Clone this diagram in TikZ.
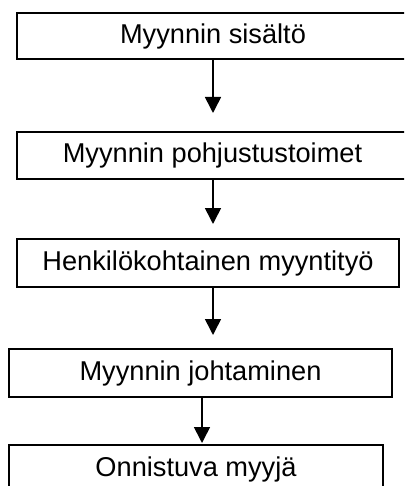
\documentclass[tikz,border=0pt]{standalone}
\usepackage{fontspec}
\setmainfont{Liberation Sans}
\usetikzlibrary{arrows.meta}
\tikzset{
  flowbox/.style={draw=black, line width=1.6pt, inner sep=0pt, fill=white,
    font=\fontsize{27.2}{32}\selectfont, text=black},
  flowarrow/.style={draw=black, line width=1.6pt,
    -{Triangle[length=16pt,width=16pt]}}
}
\begin{document}
\begin{tikzpicture}[x=1pt,y=-1pt]
\useasboundingbox (0,0) rectangle (404,486);
\clip (0,0) rectangle (404,486);
\node[flowbox, minimum width=392pt, minimum height=46pt] (b1) at (213,36) {Myynnin sisältö};
\node[flowbox, minimum width=391pt, minimum height=47pt] (b2) at (212.5,155.5) {Myynnin pohjustustoimet};
\node[flowbox, minimum width=382pt, minimum height=48pt] (b3) at (208,263) {Henkilökohtainen myyntityö};
\node[flowbox, minimum width=383pt, minimum height=48pt] (b4) at (200.5,373) {Myynnin johtaminen};
\node[flowbox, minimum width=374pt, minimum height=48pt] (b5) at (196,469) {Onnistuva myyjä};
\coordinate (t1) at (213,113);
\coordinate (t2) at (213,224);
\coordinate (t3) at (213,335);
\coordinate (t4) at (202,443);
\draw[flowarrow] (b1.south -| t1) -- (t1);
\draw[flowarrow] (b2.south -| t2) -- (t2);
\draw[flowarrow] (b3.south -| t3) -- (t3);
\draw[flowarrow] (b4.south -| t4) -- (t4);
\end{tikzpicture}
\end{document}
